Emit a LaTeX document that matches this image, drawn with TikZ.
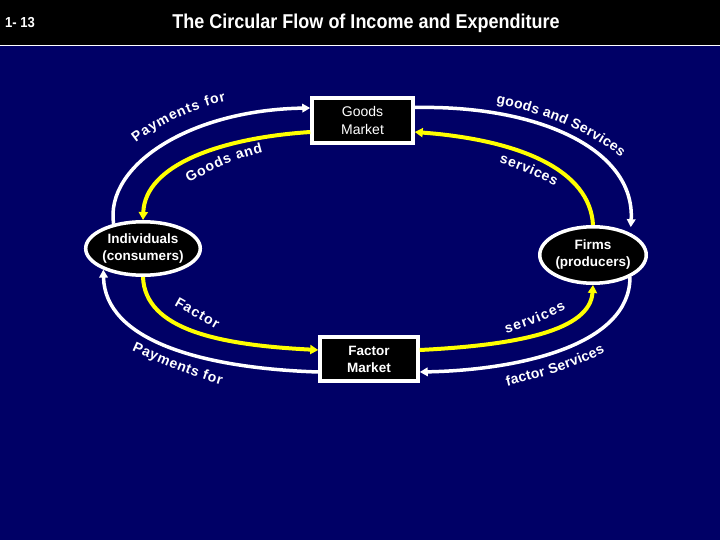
\documentclass[tikz,border=0pt]{standalone}
\usepackage{fontspec}
\setmainfont{Liberation Sans}
\usetikzlibrary{arrows.meta,shapes.geometric,decorations.text}
\definecolor{navybg}{RGB}{0,0,102}
\definecolor{flowyellow}{RGB}{255,255,0}
\newcommand\lblfont{\fontsize{14}{14}\selectfont\bfseries}
\begin{document}
\begin{tikzpicture}[x=1pt,y=1pt,
  boxnode/.style={draw=white, line width=3.5pt, fill=black, text=white, align=center, inner sep=0pt},
  ellnode/.style={ellipse, draw=white, line width=3.5pt, fill=black, text=white, align=center, inner sep=0pt, font=\fontsize{13.5}{17}\selectfont\bfseries},
  whiteflow/.style={draw=white, line width=3.5pt, -{Triangle[length=8pt,width=8.5pt]}},
  yellowflow/.style={draw=flowyellow, line width=4pt, -{Triangle[length=8pt,width=9pt]}},
  arclabel/.style={decorate, decoration={text along path, text={#1}, text align={fit to path}, text color=white}},
]
\useasboundingbox (0,0) rectangle (720,-540);
\fill[navybg] (0,0) rectangle (720,-540);
\fill[black] (0,0) rectangle (720,-45);
\draw[white, line width=1pt] (0,-45.5) -- (720,-45.5);

\node[font=\fontsize{14.5}{16}\selectfont\bfseries, text=white, anchor=west, inner sep=0pt] (num) at (5,-23) {\scalebox{0.9}[1]{1- 13}};
\node[font=\fontsize{20}{22}\selectfont\bfseries, text=white, inner sep=0pt] (title) at (366,-23.5) {\scalebox{0.9}[1]{The Circular Flow of Income and Expenditure}};

\node[boxnode, minimum width=101pt, minimum height=45pt, font=\fontsize{14}{18}\selectfont] (gm) at (362.5,-120.5) {Goods\\Market};
\node[boxnode, minimum width=98pt, minimum height=44pt, font=\fontsize{13.5}{17}\selectfont\bfseries] (fm) at (369,-359) {Factor\\Market};
\node[ellnode, minimum width=106.5pt, minimum height=53.5pt] (ind) at (143,-248.5) {Individuals\\(consumers)};
\node[ellnode, minimum width=106.5pt, minimum height=56.5pt] (firm) at (593,-255) {Firms\\(producers)};

% top half
\draw[whiteflow] (ind.140) .. controls (105,-165) and (190,-110) .. ([yshift=12.5pt]gm.west);
\draw[yellowflow] ([yshift=-11.5pt]gm.west) .. controls (220,-138) and (145,-165) .. (ind.north);
\draw[whiteflow] ([yshift=13pt]gm.east) .. controls (540,-105) and (635,-150) .. ([yshift=6pt]firm.30);
\draw[yellowflow] (firm.north) .. controls (590,-170) and (520,-140) .. ([yshift=-11.5pt]gm.east);
% bottom half
\draw[yellowflow] (ind.south) .. controls (145,-330) and (220,-345) .. ([yshift=9pt]fm.west);
\draw[whiteflow] ([yshift=-13pt]fm.west) .. controls (200,-368) and (105,-340) .. (ind.208);
\draw[yellowflow] ([yshift=9pt]fm.east) .. controls (520,-345) and (590,-330) .. (firm.south);
\draw[whiteflow] (firm.-31) .. controls (630,-345) and (520,-370) .. ([yshift=-13pt]fm.east);

% labels along the flows
\path[arclabel={|\lblfont|Payments for}] (136,-143) .. controls (160,-124) and (190,-110) .. (226,-101);
\path[arclabel={|\lblfont|Goods and}] (189,-183) .. controls (210,-171) and (235,-159) .. (263,-152);
\path[arclabel={|\lblfont|goods and Services}] (496,-104) .. controls (530,-109) and (590,-131) .. (621,-157);
\path[arclabel={|\lblfont|services}] (499,-163) .. controls (517,-168) and (536,-176) .. (555,-186);
\path[arclabel={|\lblfont|Factor}] (174,-305) .. controls (188,-313) and (202,-321) .. (216,-329);
\path[arclabel={|\lblfont|Payments for}] (132,-350) .. controls (160,-363) and (190,-376) .. (221,-385);
\path[arclabel={|\lblfont|services}] (506,-333) .. controls (526,-328) and (546,-320) .. (566,-309);
\path[arclabel={|\lblfont|factor Services}] (507,-386) .. controls (537,-379) and (575,-368) .. (605,-352);
\end{tikzpicture}
\end{document}
